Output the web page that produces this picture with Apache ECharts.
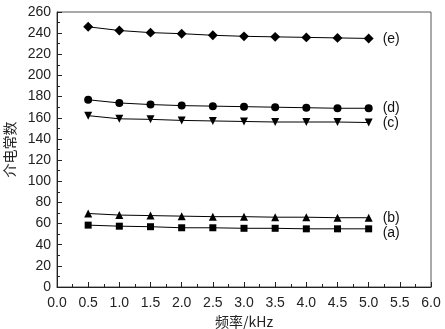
<!DOCTYPE html>
<html>
<head>
<meta charset="utf-8">
<script src="https://cdn.jsdelivr.net/npm/echarts@6/dist/echarts.min.js"></script>
<style>
html, body { margin: 0; padding: 0; background: #fff; }
#chart { width: 445px; height: 329px; }
</style>
</head>
<body>
<div id="chart"></div>
<script>
var freqs = [0.5, 1.0, 1.5, 2.0, 2.5, 3.0, 3.5, 4.0, 4.5, 5.0];
var seriesA = [58.5, 57.5, 57, 56, 56, 55.5, 55.5, 55, 55, 55];
var seriesB = [69.5, 68, 67.5, 67, 66.5, 66.5, 66, 66, 65.5, 65.5];
var seriesC = [162, 159, 158.5, 157.5, 157, 156.5, 156, 156, 156, 155.5];
var seriesD = [177, 174, 172.5, 171.5, 171, 170.5, 170, 169.5, 169, 169];
var seriesE = [246, 242.5, 240.5, 239.5, 238, 237, 236.5, 236, 235.5, 235];
var seriesNames = ['(a)', '(b)', '(c)', '(d)', '(e)'];

var FONT = 'Liberation Sans, Arial, sans-serif';

function toPairs(vals) {
    var out = [];
    for (var i = 0; i < vals.length; i++) out.push([freqs[i], vals[i]]);
    return out;
}

function mkSeries(name, vals, symbol, size, rotate, labelOffset) {
    return {
        name: name,
        type: 'line',
        data: toPairs(vals),
        symbol: symbol,
        symbolSize: size,
        symbolRotate: rotate,
        showAllSymbol: true,
        lineStyle: { color: '#000', width: 1 },
        itemStyle: { color: '#000' },
        emphasis: { disabled: true },
        endLabel: {
            show: true,
            formatter: name,
            color: '#111',
            fontSize: 14,
            fontFamily: FONT,
            distance: 14,
            offset: labelOffset
        }
    };
}

var myChart = echarts.init(document.getElementById('chart'));
var option = {
    animation: false,
    grid: {
        left: 57, right: 14, top: 12, bottom: 42,
        outerBoundsMode: 'none',
        show: true, borderColor: '#555', borderWidth: 1
    },
    xAxis: {
        type: 'value',
        min: 0, max: 6, interval: 0.5,
        name: '频率/kHz',
        nameLocation: 'middle',
        nameGap: 27,
        nameTextStyle: { fontSize: 14, fontFamily: 'Noto Sans CJK SC', color: '#222' },
        axisLine: { lineStyle: { color: '#222', width: 1 } },
        axisTick: { inside: true, length: 5, lineStyle: { color: '#222' } },
        minorTick: { show: true, splitNumber: 2, length: 3, lineStyle: { color: '#222' } },
        splitLine: { show: false },
        axisLabel: {
            margin: 9, fontSize: 14, fontFamily: FONT, color: '#222',
            formatter: function(v) { return v.toFixed(1); }
        }
    },
    yAxis: {
        type: 'value',
        min: 0, max: 260, interval: 20,
        name: '介电常数',
        nameLocation: 'middle',
        nameGap: 35,
        nameTextStyle: { fontSize: 14, fontFamily: 'Noto Sans CJK SC', color: '#222' },
        axisLine: { show: true, lineStyle: { color: '#222', width: 1 } },
        axisTick: { show: true, inside: true, length: 5, lineStyle: { color: '#222' } },
        minorTick: { show: true, splitNumber: 2, length: 3, lineStyle: { color: '#222' } },
        splitLine: { show: false },
        axisLabel: { margin: 6, fontSize: 14, fontFamily: FONT, color: '#222' }
    },
    series: [
        mkSeries(seriesNames[0], seriesA, 'rect', 7, 0, [0, 4]),
        mkSeries(seriesNames[1], seriesB, 'triangle', 8, 0, [0, 0]),
        mkSeries(seriesNames[2], seriesC, 'triangle', 8, 180, [0, 1]),
        mkSeries(seriesNames[3], seriesD, 'circle', 8, 0, [0, 0]),
        mkSeries(seriesNames[4], seriesE, 'rect', 7, 45, [0, 1])
    ]
};
myChart.setOption(option);
</script>
</body>
</html>
